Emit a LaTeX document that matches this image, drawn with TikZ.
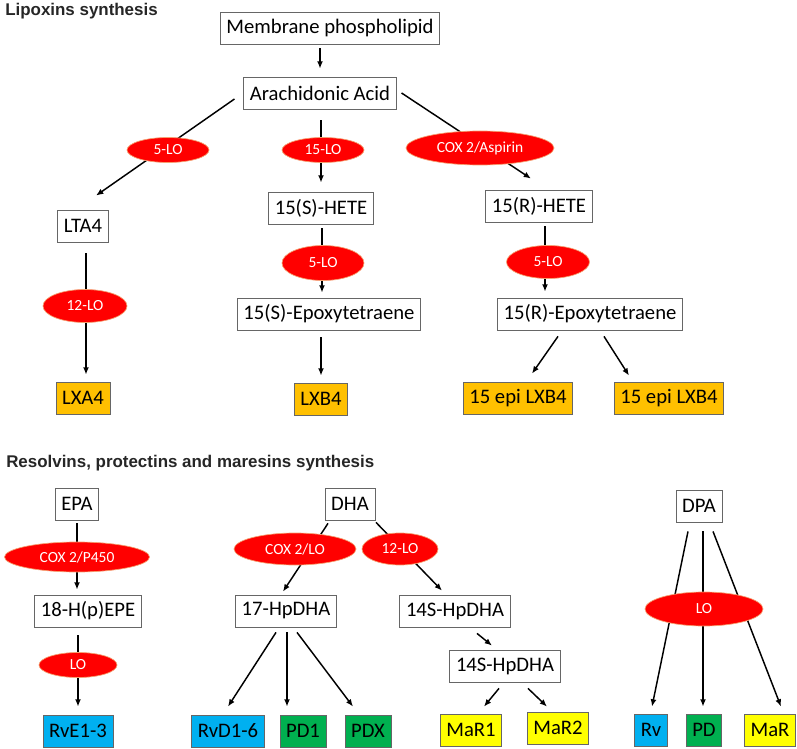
\documentclass[tikz,border=0pt]{standalone}
\usepackage{fontspec}
\setmainfont{Carlito}
\newfontfamily\titlefont{Liberation Sans}
\usetikzlibrary{shapes.geometric,arrows.meta,calc,backgrounds}
\definecolor{lxorange}{HTML}{FFC000}
\definecolor{rvblue}{HTML}{00B0F0}
\definecolor{pdgreen}{HTML}{00B050}
\definecolor{maryellow}{HTML}{FFFF00}
\definecolor{boxgray}{HTML}{666666}
\definecolor{enzred}{HTML}{FF0000}
\definecolor{enzedge}{HTML}{F5A070}
\definecolor{titlegray}{HTML}{262626}
\begin{document}
\begin{tikzpicture}[x=0.75pt,y=-0.75pt,
  box/.style={draw=boxgray, line width=0.6pt, fill=white, minimum height=24pt,
    inner xsep=4.6pt, inner ysep=0pt, font=\fontsize{15.5}{18}\selectfont, text=black},
  enz/.style={ellipse, fill=enzred, draw=enzedge, line width=0.5pt, inner sep=0pt,
    text=white, font=\fontsize{11.6}{13}\selectfont},
  arr/.style={-{Latex[length=5.5pt,width=4.5pt]}, line width=1.1pt},
  ttl/.style={anchor=base west, inner sep=0pt,
    font=\titlefont\bfseries\fontsize{12.7}{15}\selectfont, text=titlegray}]
\useasboundingbox (0,0) rectangle (797,749);

% titles
\node[ttl] (t1) at (5,15.5) {Lipoxins synthesis};
\node[ttl] (t2) at (6,467) {Resolvins, protectins and maresins synthesis};

% ---------- Lipoxins ----------
\node[box] (mp) at (330,28) {Membrane phospholipid};
\node[box] (aa) at (320,93) {Arachidonic Acid};
\node[box] (lta) at (83,226) {LTA4};
\node[box] (hs) at (321,208) {15(S)-HETE};
\node[box] (rh) at (539,206) {15(R)-HETE};
\node[box] (es) at (329,314) {15(S)-Epoxytetraene};
\node[box] (er) at (590,314) {15(R)-Epoxytetraene};
\node[box, fill=lxorange] (lxa) at (83,398) {LXA4};
\node[box, fill=lxorange] (lxb) at (321,399) {LXB4};
\node[box, fill=lxorange] (epi1) at (518,398) {15 epi LXB4};
\node[box, fill=lxorange] (epi2) at (669,398) {15 epi LXB4};

\node[enz, minimum width=61.5pt, minimum height=18.75pt] (e5a) at (168,150) {5-LO};
\node[enz, minimum width=61.5pt, minimum height=18.75pt] (e15) at (323,150) {15-LO};
\node[enz, minimum width=111pt, minimum height=25.5pt] (ecox) at (480,148) {COX 2/Aspirin};
\node[enz, minimum width=63pt, minimum height=24.75pt] (e12) at (85,306) {12-LO};
\node[enz, minimum width=61.5pt, minimum height=26.25pt] (e5b) at (323,263) {5-LO};
\node[enz, minimum width=62.25pt, minimum height=24.75pt] (e5c) at (548,262) {5-LO};

% ---------- Resolvins ----------
\node[box] (epa) at (77,504) {EPA};
\node[box] (hepe) at (88,611) {18-H(p)EPE};
\node[box, fill=rvblue] (rve) at (78,731) {RvE1-3};
\node[box] (dha) at (350,504) {DHA};
\node[box] (hpd) at (286,611) {17-HpDHA};
\node[box] (hpa) at (455,611) {14S-HpDHA};
\node[box] (hpb) at (505,666) {14S-HpDHA};
\node[box, fill=rvblue] (rvd) at (228,731) {RvD1-6};
\node[box, fill=pdgreen] (pd1) at (303,731) {PD1};
\node[box, fill=pdgreen] (pdx) at (368,731) {PDX};
\node[box, fill=maryellow] (mar1) at (471,730) {MaR1};
\node[box, fill=maryellow] (mar2) at (558,728) {MaR2};
\node[box] (dpa) at (699,506) {DPA};
\node[box, fill=rvblue] (rv) at (651,730) {Rv};
\node[box, fill=pdgreen] (pd) at (704,730) {PD};
\node[box, fill=maryellow] (mar) at (770,730) {MaR};

\node[enz, minimum width=108.75pt, minimum height=22.5pt] (ep450) at (77,557) {COX 2/P450};
\node[enz, minimum width=58.5pt, minimum height=18.75pt] (elo1) at (78,665) {LO};
\node[enz, minimum width=91.5pt, minimum height=24pt] (ecoxlo) at (295,549) {COX 2/LO};
\node[enz, minimum width=57pt, minimum height=24pt] (e12b) at (400,549) {12-LO};
\node[enz, minimum width=88.5pt, minimum height=25.5pt] (elo2) at (704,609) {LO};

% ---------- connectors ----------
\begin{scope}[on background layer]
\draw[arr] ($(mp.south -| aa.north)+(0,4)$) -- ($(aa.north)+(0,-8)$);
\draw[arr] ($(aa.west)+(-9,6)$) -- ($(lta.north)+(13,-14)$);
\draw[arr] ($(aa.south)+(1,11)$) -- ($(hs.north)+(0,-9)$);
\draw[arr] ($(aa.east)+(5,0)$) -- ($(rh.north)+(-8,-11)$);
\draw[arr] ($(lta.south)+(3,11)$) -- ($(lxa.north)+(3,-7)$);
\draw[arr] ($(hs.south)+(1,4)$) -- ($(hs.south |- es.north)+(1,-5)$);
\draw[arr] ($(lxb.north |- es.south)+(0,7)$) -- ($(lxb.north)+(0,-7)$);
\draw[arr] ($(rh.south)+(6,4)$) -- ($(rh.south |- er.north)+(6,-6)$);
\draw[arr] ($(er.south)+(-32,6)$) -- ($(epi1.north)+(14,-8)$);
\draw[arr] ($(er.south)+(14,6)$) -- ($(epi2.north)+(-40,-6)$);

\draw[arr] ($(epa.south)+(0,3)$) -- ($(epa.south |- hepe.north)+(0,-5)$);
\draw[arr] ($(rve.north |- hepe.south)+(0,8)$) -- ($(rve.north)+(0,-8)$);
\draw[arr] ($(dha.south)+(-22,3)$) -- ($(hpd.north)+(-3,-3)$);
\draw[arr] ($(dha.south)+(26,2)$) -- ($(hpa.north)+(-13,-4)$);
\draw[arr] ($(hpa.south)+(22,6)$) -- ($(hpb.north)+(-13,-4)$);
\draw[arr] ($(hpb.south)+(-6,6)$) -- ($(mar1.north)+(13,-7)$);
\draw[arr] ($(hpb.south)+(23,6)$) -- ($(mar2.north)+(-11,-5)$);
\draw[arr] ($(hpd.south)+(-10,5)$) -- ($(rvd.north)+(0,-8)$);
\draw[arr] ($(hpd.south)+(1,5)$) -- ($(pd1.north)+(-16,-8)$);
\draw[arr] ($(hpd.south)+(11,5)$) -- ($(pdx.north)+(-15,-8)$);
\draw[arr] ($(dpa.south)+(-11,9)$) -- ($(rv.north)+(1,-7)$);
\draw[arr] ($(dpa.south)+(4,9)$) -- ($(pd.north)+(-1,-7)$);
\draw[arr] ($(dpa.south)+(14,9)$) -- ($(mar.north)+(11,-7)$);
\end{scope}
\end{tikzpicture}
\end{document}
